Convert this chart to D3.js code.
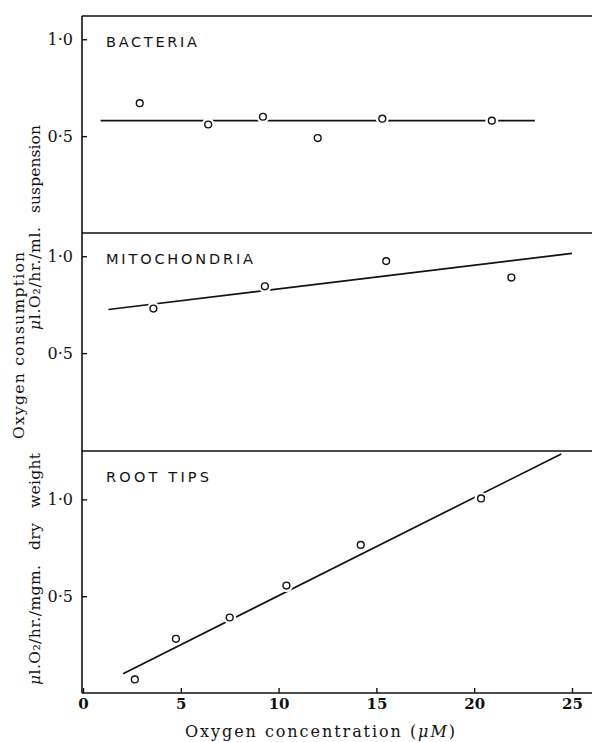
<!DOCTYPE html>
<html>
<head>
<meta charset="utf-8">
<script src="https://cdn.jsdelivr.net/npm/d3@7"></script>
<style>
  body { margin: 0; background: #fff; }
  svg { display: block; }
  .tick text { font-family: "DejaVu Serif", serif; fill: #111; }
  .label { font-family: "DejaVu Serif", serif; fill: #111; }
  .panelName { font-family: "DejaVu Sans", sans-serif; fill: #111; }
</style>
</head>
<body>
<svg id="chart" width="592" height="742"></svg>
<script>
// data
const xTicks = [0, 5, 10, 15, 20, 25];
const yTicks = [0.5, 1.0];

const panelNames = ['BACTERIA', 'MITOCHONDRIA', 'ROOT TIPS'];

const bacteriaX = [2.9, 6.4, 9.2, 12.0, 15.3, 20.9];
const bacteriaY = [0.67, 0.56, 0.60, 0.49, 0.59, 0.58];
const bacteriaFit = [[0.9, 0.58], [23.1, 0.58]];

const mitoX = [3.6, 9.3, 15.5, 21.9];
const mitoY = [0.73, 0.845, 0.975, 0.89];
const mitoFit = [[1.3, 0.725], [25.0, 1.015]];

const rootX = [2.65, 4.75, 7.5, 10.4, 14.2, 20.35];
const rootY = [0.07, 0.28, 0.39, 0.555, 0.765, 1.005];
const rootFit = [[2.05, 0.10], [24.45, 1.235]];

const yMax = [1.12, 1.12, 1.25];

// ---------- layout
const width = 592, height = 742;
const svg = d3.select('#chart');
const ink = '#111';

const panelTop = [16, 233, 451];
const panelBottom = [233, 450, 693];
const axisX = 82;

const xScale = d3.scaleLinear()
  .domain([0, 25])
  .range([83, 572]);

const panels = [
  {name: panelNames[0], xs: bacteriaX, ys: bacteriaY, fit: bacteriaFit, baseline: 47},
  {name: panelNames[1], xs: mitoX, ys: mitoY, fit: mitoFit, baseline: 264},
  {name: panelNames[2], xs: rootX, ys: rootY, fit: rootFit, baseline: 482}
];

const fmt = d => d3.format('.1f')(d).replace('.', '·');

panels.forEach((p, i) => {
  const yScale = d3.scaleLinear()
    .domain([0, yMax[i]])
    .range([panelBottom[i], panelTop[i]]);

  // y axis ticks
  const ya = svg.append('g')
    .attr('transform', `translate(${axisX},0)`)
    .call(d3.axisLeft(yScale)
      .tickValues(yTicks)
      .tickFormat(fmt)
      .tickSizeInner(-5)
      .tickSizeOuter(0)
      .tickPadding(9));
  ya.select('.domain').remove();
  ya.selectAll('line').attr('stroke', ink).attr('stroke-width', 1.4);
  ya.selectAll('text').attr('font-size', 16).attr('fill', ink);

  // top border of each panel
  svg.append('line')
    .attr('x1', axisX).attr('x2', width)
    .attr('y1', panelTop[i]).attr('y2', panelTop[i])
    .attr('stroke', ink).attr('stroke-width', 1.6);

  // fitted line
  const line = d3.line()
    .x(d => xScale(d[0]))
    .y(d => yScale(d[1]));
  svg.append('path')
    .datum(p.fit)
    .attr('d', line)
    .attr('fill', 'none')
    .attr('stroke', ink)
    .attr('stroke-width', 1.7);

  const pts = p.xs.map((x, k) => [x, p.ys[k]]);

  // white gap around circles
  svg.append('g').selectAll('circle')
    .data(pts)
    .join('circle')
    .attr('cx', d => xScale(d[0]))
    .attr('cy', d => yScale(d[1]))
    .attr('r', 6.5)
    .attr('fill', '#fff');

  svg.append('g').selectAll('circle')
    .data(pts)
    .join('circle')
    .attr('cx', d => xScale(d[0]))
    .attr('cy', d => yScale(d[1]))
    .attr('r', 3.4)
    .attr('fill', '#fff')
    .attr('stroke', ink)
    .attr('stroke-width', 1.4);

  // panel name
  const nameLen = [91, 147, 103][i];
  svg.append('text')
    .attr('class', 'panelName')
    .attr('x', 106)
    .attr('y', p.baseline)
    .attr('font-size', 14.5)
    .attr('textLength', nameLen)
    .attr('lengthAdjust', 'spacing')
    .text(p.name);
});

// left axis
svg.append('line')
  .attr('x1', axisX).attr('x2', axisX)
  .attr('y1', panelTop[0]).attr('y2', panelBottom[2])
  .attr('stroke', ink).attr('stroke-width', 1.6);

// x axis
const xa = svg.append('g')
  .attr('transform', `translate(0,${panelBottom[2]})`)
  .call(d3.axisBottom(xScale)
    .tickValues(xTicks)
    .tickSizeInner(-5)
    .tickSizeOuter(0)
    .tickPadding(5));
xa.select('.domain').remove();
xa.selectAll('line').attr('stroke', ink).attr('stroke-width', 1.4);
xa.selectAll('text').attr('font-size', 15).attr('font-weight', 'bold').attr('fill', ink);

svg.append('line')
  .attr('x1', axisX).attr('x2', width)
  .attr('y1', panelBottom[2]).attr('y2', panelBottom[2])
  .attr('stroke', ink).attr('stroke-width', 1.6);

// X label
const xl = svg.append('text')
  .attr('class', 'label')
  .attr('x', 185)
  .attr('y', 737)
  .attr('font-size', 16)
  .attr('textLength', 270)
  .attr('lengthAdjust', 'spacing');
xl.append('tspan').text('Oxygen concentration (');
xl.append('tspan').attr('font-style', 'italic').text('μM');
xl.append('tspan').text(')');

// Y labels (rotated), placed by their extent along the axis
const yLabel = (parts, bx, y0, y1) => {
  const t = svg.append('text')
    .attr('class', 'label')
    .attr('transform', `translate(${bx},${y0}) rotate(-90)`)
    .attr('font-size', 15.5)
    .attr('textLength', y0 - y1)
    .attr('lengthAdjust', 'spacing');
  parts.forEach(([s, italic]) => {
    t.append('tspan').attr('font-style', italic ? 'italic' : null).text(s);
  });
};

yLabel([['Oxygen consumption']], 24, 439, 252);
yLabel([['μ', true], ['l.O₂/hr./ml.']], 40, 330, 227);
yLabel([['suspension']], 40, 213, 125);
yLabel([['μ', true], ['l.O₂/hr./mgm.']], 40, 685, 565);
yLabel([['dry']], 40, 550, 523);
yLabel([['weight']], 40, 508, 453);
</script>
</body>
</html>
